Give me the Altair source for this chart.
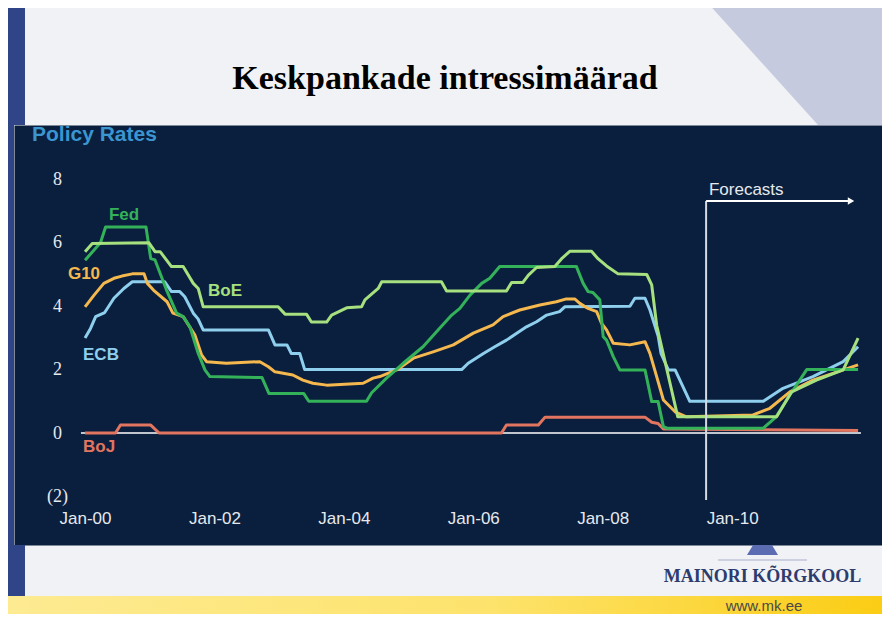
import altair as alt
import pandas as pd

# ---------------- data ----------------
banks = ["BoJ", "ECB", "G10", "Fed", "BoE"]
bank_colors = ["#e27560", "#8fcfee", "#f4b84e", "#34b25a", "#a6e07f"]

fed_dates = ["2000-01-01", "2000-03-28", "2000-04-26", "2000-12-10", "2001-01-06", "2001-01-30",
             "2001-04-05", "2001-06-01", "2001-07-08", "2001-08-15", "2001-10-01", "2001-11-08",
             "2001-12-06", "2002-09-26", "2002-11-04", "2003-05-19", "2003-06-17", "2004-05-08",
             "2004-06-06", "2004-08-29", "2004-12-01", "2005-03-23", "2005-06-16", "2005-09-01",
             "2005-10-17", "2005-12-13", "2006-02-17", "2006-04-04", "2006-05-30", "2007-08-06",
             "2007-09-13", "2007-10-11", "2007-11-07", "2007-12-16", "2008-01-04", "2008-01-23",
             "2008-03-01", "2008-04-07", "2008-08-27", "2008-10-04", "2008-11-09", "2008-12-09",
             "2008-12-30", "2010-06-26", "2010-09-05", "2010-11-23", "2011-02-26", "2011-12-13"]
fed_rates = [5.45, 6.0, 6.5, 6.5, 5.5, 5.46,
             4.51, 3.78, 3.67, 3.35, 2.51, 1.99,
             1.78, 1.75, 1.25, 1.25, 1.0, 1.0,
             1.27, 1.73, 2.2, 2.72, 3.25, 3.72,
             3.93, 4.35, 4.72, 4.88, 5.25, 5.25,
             4.72, 4.46, 4.43, 4.2, 3.04, 2.93,
             2.41, 1.99, 1.99, 0.99, 0.99, 0.2,
             0.15, 0.15, 0.5, 1.2, 2.0, 2.0]

boe_dates = ["2000-01-01", "2000-02-11", "2000-12-27", "2001-01-30", "2001-02-28", "2001-05-03",
             "2001-07-08", "2001-09-03", "2001-10-01", "2001-10-29", "2002-12-26", "2003-02-03",
             "2003-06-04", "2003-07-02", "2003-09-26", "2003-10-24", "2004-01-17", "2004-04-10",
             "2004-04-29", "2004-07-13", "2004-08-02", "2005-07-05", "2005-08-03", "2006-07-07",
             "2006-08-05", "2006-10-08", "2006-11-08", "2006-12-24", "2007-04-06", "2007-05-13",
             "2007-06-29", "2007-10-30", "2007-12-07", "2008-01-23", "2008-03-28", "2008-09-06",
             "2008-10-04", "2008-11-01", "2009-02-28", "2010-09-09", "2010-12-03", "2011-04-22",
             "2011-09-20", "2011-12-13"]
boe_rates = [5.72, 5.98, 6.0, 5.72, 5.72, 5.25,
             5.25, 4.72, 4.56, 3.98, 3.98, 3.75,
             3.75, 3.5, 3.5, 3.72, 3.95, 3.98,
             4.2, 4.56, 4.77, 4.77, 4.48, 4.48,
             4.75, 4.75, 4.98, 5.22, 5.25, 5.49,
             5.73, 5.73, 5.49, 5.27, 5.02, 5.0,
             4.67, 3.4, 0.51, 0.51, 1.3, 1.67,
             1.99, 2.99]

ecb_dates = ["2000-01-01", "2000-02-01", "2000-03-01", "2000-04-21", "2000-06-12", "2000-08-07",
             "2000-09-24", "2001-03-26", "2001-05-03", "2001-06-19", "2001-07-17", "2001-09-03",
             "2001-09-30", "2001-10-29", "2002-11-01", "2002-12-08", "2003-02-14", "2003-03-10",
             "2003-04-27", "2003-05-25", "2005-10-27", "2005-12-03", "2006-02-27", "2006-05-02",
             "2006-07-07", "2006-09-03", "2006-10-28", "2006-12-24", "2007-02-19", "2007-05-03",
             "2007-06-01", "2008-06-03", "2008-07-01", "2008-08-27", "2008-09-24", "2008-11-10",
             "2008-11-26", "2009-01-06", "2009-02-13", "2009-05-07", "2010-06-26", "2010-10-15",
             "2011-04-02", "2011-09-20", "2011-12-13"]
ecb_rates = [3.0, 3.3, 3.67, 3.8, 4.25, 4.56,
             4.77, 4.77, 4.46, 4.46, 4.3, 3.78,
             3.6, 3.25, 3.25, 2.78, 2.78, 2.51,
             2.51, 2.0, 2.0, 2.2, 2.51, 2.72,
             2.93, 3.15, 3.35, 3.51, 3.72, 3.83,
             3.98, 4.0, 4.25, 4.25, 3.88, 3.04,
             2.5, 1.99, 1.99, 1.0, 1.0, 1.41,
             1.78, 2.25, 2.72]

g10_dates = ["2000-01-01", "2000-02-21", "2000-04-16", "2000-06-12", "2000-07-27", "2000-09-24",
             "2000-11-29", "2000-12-18", "2001-01-21", "2001-04-08", "2001-05-11", "2001-07-08",
             "2001-09-12", "2001-10-20", "2001-11-17", "2002-03-09", "2002-09-14", "2002-11-01",
             "2002-12-08", "2003-03-19", "2003-05-15", "2003-07-10", "2003-09-26", "2004-04-19",
             "2004-06-14", "2004-07-22", "2004-10-25", "2005-01-28", "2005-05-19", "2005-09-10",
             "2006-01-01", "2006-04-22", "2006-06-18", "2006-09-20", "2007-01-12", "2007-04-15",
             "2007-06-10", "2007-07-27", "2007-08-25", "2007-10-11", "2007-11-28", "2007-12-26",
             "2008-01-23", "2008-03-01", "2008-06-03", "2008-08-27", "2008-09-24", "2008-11-01",
             "2008-12-09", "2009-02-13", "2009-04-18", "2010-04-29", "2010-08-02", "2010-11-23",
             "2011-04-02", "2011-09-20", "2011-12-13"]
g10_rates = [3.98, 4.35, 4.72, 4.88, 4.95, 5.02,
             5.02, 4.72, 4.51, 4.14, 3.78, 3.67,
             3.09, 2.46, 2.25, 2.2, 2.25, 2.09,
             1.93, 1.83, 1.67, 1.57, 1.51, 1.57,
             1.73, 1.78, 1.99, 2.36, 2.56, 2.78,
             3.15, 3.41, 3.67, 3.88, 4.04, 4.14,
             4.23, 4.23, 4.09, 3.93, 3.83, 3.46,
             3.25, 2.83, 2.78, 2.88, 2.51, 1.78,
             1.04, 0.67, 0.51, 0.57, 0.78, 1.3,
             1.67, 1.99, 2.15]

boj_dates = ["2000-01-01", "2000-06-21", "2000-07-19", "2001-01-06", "2001-02-22", "2006-06-09",
             "2006-07-07", "2007-01-03", "2007-02-10", "2008-08-27", "2008-10-04", "2008-11-09",
             "2008-12-09", "2011-12-13"]
boj_rates = [0.0, 0.0, 0.25, 0.25, 0.0, 0.0,
             0.25, 0.25, 0.5, 0.5, 0.34, 0.3,
             0.13, 0.08]

label_texts = ["Fed", "G10", "BoE", "ECB", "BoJ"]
label_dates = ["2000-08-08", "1999-12-26", "2002-03-01", "2000-03-31", "2000-03-20"]
label_rates = [6.88, 5.02, 4.48, 2.46, -0.44]

year_ticks = [2000, 2002, 2004, 2006, 2008, 2010]
rate_ticks = [-2, 0, 2, 4, 6, 8]

# ---------------- tables ----------------
series = {"BoJ": (boj_dates, boj_rates), "ECB": (ecb_dates, ecb_rates),
          "G10": (g10_dates, g10_rates), "Fed": (fed_dates, fed_rates),
          "BoE": (boe_dates, boe_rates)}
rows = []
for b in banks:
    ds, rs = series[b]
    for d, r in zip(ds, rs):
        rows.append({"bank": b, "date": d, "rate": r})
rates = pd.DataFrame(rows)
labels = pd.DataFrame({"bank": label_texts, "date": label_dates, "rate": label_rates})

NAVY = "#0a1f3d"
TXT = "#e6e9ee"

xscale = alt.Scale(type="utc", domain=[alt.DateTime(year=1998, month=11, date=26, utc=True),
                                        alt.DateTime(year=2012, month=4, date=26, utc=True)])
yscale = alt.Scale(domain=[-3.533, 9.716], nice=False, zero=False)
cscale = alt.Scale(domain=banks, range=bank_colors)

xaxis = alt.Axis(values=[alt.DateTime(year=y, month=1, date=1, utc=True) for y in year_ticks],
                 labelExpr="utcFormat(datum.value, '%b-%y')", orient="bottom", offset=-27,
                 domain=False, ticks=False, tickSize=0, grid=False, labelPadding=0,
                 labelBaseline="middle", labelAlign="center", labelFlush=False, labelOverlap=False,
                 labelFont="Liberation Sans", labelFontSize=17, labelColor=TXT, title=None)
yaxis = alt.Axis(values=rate_ticks,
                 labelExpr="datum.value < 0 ? '(' + abs(datum.value) + ')' : datum.label",
                 orient="left", offset=-43, domain=False, ticks=False, tickSize=0, grid=False,
                 labelPadding=0, labelAlign="center", labelBaseline="middle", labelFlush=False,
                 labelFont="Liberation Serif", labelFontSize=18, labelColor=TXT, title=None)


def X(field):
    return alt.X(field, type="temporal", scale=xscale, axis=xaxis)


def Y(field):
    return alt.Y(field, type="quantitative", scale=yscale, axis=yaxis)


one = pd.DataFrame({"k": [0]})


def rect(x, x2, y, y2, color):
    return alt.Chart(one).mark_rect(color=color).encode(
        x=alt.value(x), x2=alt.value(x2), y=alt.value(y), y2=alt.value(y2))


# ---------------- slide decoration ----------------
strip = "#2f4587"
deco = [
    rect(-14, 11, -125, 0, strip),
    rect(-14, 0, 0, 420, strip),
    rect(-14, 11, 420, 471, strip),
    alt.Chart(one).mark_point(filled=True, color="#c5cade", opacity=1, strokeWidth=0).encode(
        x=alt.value(784), y=alt.value(-62.5),
        shape=alt.value("M-1,-0.672L1,-0.672L1,0.672L0.215,0.672Z"), size=alt.value(34596)),
    alt.Chart(one).mark_rect(color=alt.LinearGradient(
        gradient="linear", x1=0, y1=0, x2=1, y2=0,
        stops=[alt.GradientStop(offset=0, color="#fdeb93"),
               alt.GradientStop(offset=0.55, color="#fde36c"),
               alt.GradientStop(offset=1, color="#fbcc12")])).encode(
        x=alt.value(-14), x2=alt.value(877), y=alt.value(471), y2=alt.value(505)),
    alt.Chart(one).mark_point(filled=True, color="#5b6cb3", opacity=1, strokeWidth=0).encode(
        x=alt.value(748.5), y=alt.value(425),
        shape=alt.value("M-0.61,-0.32L0.61,-0.32L1,0.32L-1,0.32Z"), size=alt.value(961)),
    alt.Chart(one).mark_rule(color="#bfc5d8", strokeWidth=1.5).encode(
        x=alt.value(704), x2=alt.value(793), y=alt.value(435)),
    alt.Chart(pd.DataFrame({"t": ["MAINORI KÕRGKOOL"]})).mark_text(
        font="Liberation Serif", fontWeight="bold", fontSize=18, color="#2d3c6e",
        align="center", baseline="alphabetic").encode(
        text="t:N", x=alt.value(748.5), y=alt.value(457)),
    alt.Chart(pd.DataFrame({"t": ["www.mk.ee"]})).mark_text(
        font="Liberation Sans", fontSize=15, color="#4a4a4a",
        align="center", baseline="alphabetic").encode(
        text="t:N", x=alt.value(750), y=alt.value(486)),
    alt.Chart(pd.DataFrame({"t": ["Keskpankade intressimäärad"]})).mark_text(
        font="Liberation Serif", fontWeight="bold", fontSize=34, color="#000000",
        align="center", baseline="alphabetic").encode(
        text="t:N", x=alt.value(431), y=alt.value(-36)),
    alt.Chart(pd.DataFrame({"t": ["Policy Rates"]})).mark_text(
        font="Liberation Sans", fontWeight="bold", fontSize=21, color="#3a95d1",
        align="left", baseline="middle").encode(
        text="t:N", x=alt.value(18), y=alt.value(10)),
]

# ---------------- chart content ----------------
lines = alt.Chart(rates).mark_line(strokeWidth=3, strokeJoin="round").encode(
    x=X("date"), y=Y("rate"),
    color=alt.Color("bank:N", scale=cscale, legend=None),
    detail="bank:N")

zero = alt.Chart(pd.DataFrame({"date": ["1999-12-09"], "end": ["2011-12-29"], "rate": [0]})).mark_rule(
    color="#ffffff", strokeWidth=1.3).encode(x=X("date"), x2="end:T", y=Y("rate"))

names = alt.Chart(labels).mark_text(font="Liberation Sans", fontWeight="bold", fontSize=17,
                                    align="center", baseline="middle").encode(
    x=X("date"), y=Y("rate"), text="bank:N",
    color=alt.Color("bank:N", scale=cscale, legend=None))

fc_v = alt.Chart(pd.DataFrame({"date": ["2009-08-07"], "low": [-2.11], "high": [7.32]})).mark_rule(
    color="#d5d9e0", strokeWidth=2).encode(x=X("date"), y=Y("low"), y2="high:Q")
fc_h = alt.Chart(pd.DataFrame({"date": ["2009-08-07"], "end": ["2011-10-17"], "rate": [7.32]})).mark_rule(
    color="#ffffff", strokeWidth=2).encode(x=X("date"), x2="end:T", y=Y("rate"))
fc_head = alt.Chart(pd.DataFrame({"date": ["2011-11-03"], "rate": [7.32]})).mark_point(
    shape="triangle-right", filled=True, size=55, color="#ffffff", opacity=1).encode(
    x=X("date"), y=Y("rate"))
fc_text = alt.Chart(pd.DataFrame({"date": ["2009-08-23"], "rate": [7.68], "t": ["Forecasts"]})).mark_text(
    font="Liberation Sans", fontSize=17, color=TXT, align="left", baseline="middle").encode(
    x=X("date"), y=Y("rate"), text="t:N")

chart = alt.layer(*deco, zero, lines, names, fc_v, fc_h, fc_head, fc_text).properties(
    width=868, height=420,
    background="#f1f2f5",
    padding={"left": 6, "top": 117, "right": 0, "bottom": 69},
    autosize=alt.AutoSizeParams(type="none"),
).configure_view(fill=NAVY, stroke="transparent")

chart.save("out.html", embed_options={"renderer": "svg", "actions": False})
